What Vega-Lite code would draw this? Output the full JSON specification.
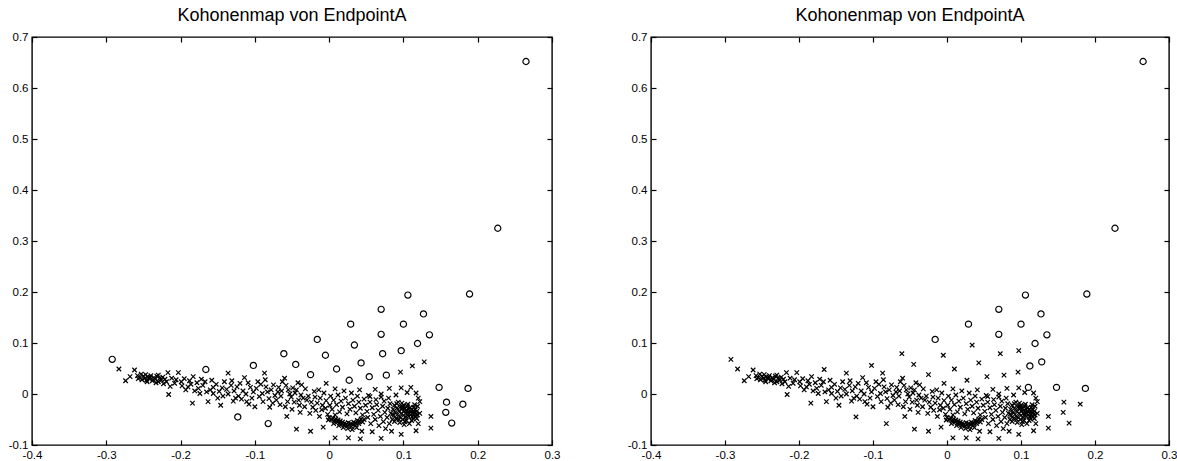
{
  "$schema": "https://vega.github.io/schema/vega-lite/v6.json",
  "padding": {"left": 7, "top": 6, "right": 5, "bottom": 2},
  "spacing": 65,
  "config": {
    "view": {"stroke": "black", "strokeWidth": 1.4},
    "axis": {
      "domain": false, "grid": false, "ticks": true, "offset": -5,
      "tickColor": "black", "tickSize": 5, "tickWidth": 1.2, "tickOpacity": 1,
      "labelColor": "black", "labelFont": "Liberation Sans", "labelFontSize": 11.5,
      "labelFlush": false, "labelOverlap": false, "labelPadding": 4, "title": null, "zindex": 1
    },
    "title": {"font": "Liberation Sans", "fontSize": 18, "fontWeight": "normal", "color": "black", "offset": 6}
  },
  "datasets": {
    "som": [
      {"x":0.265,"y":0.652,"c":"b"},{"x":0.227,"y":0.325,"c":"b"},{"x":0.189,"y":0.196,"c":"b"},{"x":0.106,"y":0.194,"c":"b"},
      {"x":0.070,"y":0.166,"c":"b"},{"x":0.127,"y":0.157,"c":"b"},{"x":0.029,"y":0.137,"c":"b"},{"x":0.100,"y":0.137,"c":"b"},
      {"x":0.070,"y":0.117,"c":"b"},{"x":0.135,"y":0.116,"c":"b"},{"x":-0.016,"y":0.107,"c":"b"},{"x":0.034,"y":0.096,"c":"l"},
      {"x":0.119,"y":0.099,"c":"b"},{"x":0.072,"y":0.079,"c":"l"},{"x":0.097,"y":0.085,"c":"l"},{"x":-0.005,"y":0.076,"c":"l"},
      {"x":0.043,"y":0.061,"c":"l"},{"x":0.010,"y":0.049,"c":"l"},{"x":-0.025,"y":0.038,"c":"l"},{"x":0.027,"y":0.027,"c":"l"},
      {"x":0.054,"y":0.034,"c":"l"},{"x":0.077,"y":0.037,"c":"l"},{"x":0.148,"y":0.013,"c":"b"},{"x":0.187,"y":0.011,"c":"b"},
      {"x":0.158,"y":-0.016,"c":"l"},{"x":0.180,"y":-0.020,"c":"l"},{"x":0.157,"y":-0.036,"c":"l"},{"x":0.165,"y":-0.057,"c":"l"},
      {"x":-0.292,"y":0.068,"c":"l"},{"x":-0.166,"y":0.048,"c":"l"},{"x":-0.102,"y":0.056,"c":"l"},{"x":-0.061,"y":0.079,"c":"l"},
      {"x":-0.045,"y":0.058,"c":"l"},{"x":-0.123,"y":-0.045,"c":"l"},{"x":-0.082,"y":-0.058,"c":"l"},
      {"x":0.128,"y":0.063,"c":"r"},{"x":0.112,"y":0.055,"c":"r"},{"x":0.110,"y":0.013,"c":"r"},

      {"x":-0.283,"y":0.049},{"x":-0.274,"y":0.026},{"x":-0.268,"y":0.034},{"x":-0.262,"y":0.047},{"x":-0.258,"y":0.036},
      {"x":-0.255,"y":0.032},{"x":-0.252,"y":0.028},{"x":-0.250,"y":0.035},{"x":-0.248,"y":0.031},{"x":-0.246,"y":0.027},
      {"x":-0.244,"y":0.034},{"x":-0.242,"y":0.030},{"x":-0.240,"y":0.036},{"x":-0.238,"y":0.026},{"x":-0.236,"y":0.032},
      {"x":-0.234,"y":0.029},{"x":-0.232,"y":0.035},{"x":-0.230,"y":0.024},{"x":-0.228,"y":0.031},{"x":-0.226,"y":0.027},
      {"x":-0.224,"y":0.033},{"x":-0.253,"y":0.039},{"x":-0.247,"y":0.038},{"x":-0.257,"y":0.030},{"x":-0.241,"y":0.033},
      {"x":-0.233,"y":0.022},{"x":-0.245,"y":0.024},{"x":-0.221,"y":0.029},{"x":-0.219,"y":0.024},{"x":-0.230,"y":0.037},
      {"x":-0.217,"y":0.042},{"x":-0.203,"y":0.042},{"x":-0.216,"y":-0.001},{"x":-0.223,"y":0.020},{"x":-0.208,"y":0.021},
      {"x":-0.199,"y":0.024},{"x":-0.212,"y":0.031},{"x":-0.206,"y":0.028},{"x":-0.195,"y":0.030},{"x":-0.214,"y":0.015},
      {"x":-0.198,"y":0.016},{"x":-0.190,"y":0.014},{"x":-0.188,"y":0.026},{"x":-0.183,"y":0.034},{"x":-0.184,"y":-0.018},
      {"x":-0.176,"y":0.011},{"x":-0.174,"y":0.001},{"x":-0.178,"y":0.022},{"x":-0.170,"y":0.017},{"x":-0.167,"y":0.024},
      {"x":-0.163,"y":-0.015},{"x":-0.160,"y":0.008},{"x":-0.156,"y":0.001},{"x":-0.156,"y":0.013},{"x":-0.152,"y":0.019},
      {"x":-0.148,"y":0.005},{"x":-0.146,"y":-0.022},{"x":-0.144,"y":0.012},{"x":-0.141,"y":0.024},{"x":-0.138,"y":0.009},
      {"x":-0.136,"y":0.041},{"x":-0.136,"y":0.000},{"x":-0.132,"y":0.017},{"x":-0.128,"y":0.006},{"x":-0.126,"y":-0.008},
      {"x":-0.124,"y":0.014},{"x":-0.122,"y":-0.004},{"x":-0.120,"y":0.021},{"x":-0.114,"y":0.032},{"x":-0.116,"y":0.006},
      {"x":-0.112,"y":0.000},{"x":-0.111,"y":-0.015},{"x":-0.108,"y":-0.020},{"x":-0.106,"y":0.013},{"x":-0.102,"y":0.004},
      {"x":-0.100,"y":-0.025},{"x":-0.098,"y":0.011},{"x":-0.096,"y":0.024},{"x":-0.094,"y":-0.005},{"x":-0.092,"y":0.019},
      {"x":-0.090,"y":0.001},{"x":-0.087,"y":0.041},{"x":-0.085,"y":0.014},{"x":-0.083,"y":0.004},{"x":-0.081,"y":-0.009},
      {"x":-0.080,"y":-0.026},{"x":-0.078,"y":0.008},{"x":-0.075,"y":0.018},{"x":-0.073,"y":-0.003},{"x":-0.071,"y":-0.012},
      {"x":-0.069,"y":0.004},{"x":-0.068,"y":0.013},{"x":-0.065,"y":-0.004},{"x":-0.063,"y":0.024},{"x":-0.060,"y":0.031},
      {"x":-0.059,"y":-0.025},{"x":-0.057,"y":-0.044},{"x":-0.056,"y":-0.015},{"x":-0.055,"y":0.008},{"x":-0.053,"y":0.000},
      {"x":-0.051,"y":-0.006},{"x":-0.049,"y":0.012},{"x":-0.047,"y":-0.016},{"x":-0.044,"y":-0.069},{"x":-0.044,"y":0.008},
      {"x":-0.042,"y":0.022},{"x":-0.040,"y":-0.022},{"x":-0.038,"y":-0.002},{"x":-0.037,"y":0.018},{"x":-0.035,"y":-0.008},
      {"x":-0.033,"y":-0.025},{"x":-0.032,"y":0.010},
      {"x":-0.193,"y":0.008},{"x":-0.186,"y":0.019},{"x":-0.181,"y":0.006},{"x":-0.172,"y":0.029},{"x":-0.165,"y":0.004},
      {"x":-0.158,"y":0.027},{"x":-0.150,"y":-0.008},{"x":-0.143,"y":-0.004},{"x":-0.131,"y":0.026},{"x":-0.129,"y":-0.014},
      {"x":-0.118,"y":-0.010},{"x":-0.109,"y":0.022},{"x":-0.104,"y":-0.008},{"x":-0.089,"y":-0.015},{"x":-0.086,"y":0.028},
      {"x":-0.076,"y":-0.018},{"x":-0.066,"y":-0.021},{"x":-0.064,"y":0.006},{"x":-0.058,"y":0.017},{"x":-0.050,"y":-0.030},
      {"x":-0.046,"y":0.002},{"x":-0.041,"y":-0.012},{"x":-0.039,"y":-0.036},

      {"x":-0.030,"y":-0.012},{"x":-0.028,"y":-0.004},{"x":-0.026,"y":-0.038},{"x":-0.025,"y":-0.073},{"x":-0.024,"y":-0.016},
      {"x":-0.022,"y":-0.026},{"x":-0.020,"y":0.005},{"x":-0.019,"y":-0.006},{"x":-0.018,"y":-0.032},{"x":-0.016,"y":-0.018},
      {"x":-0.014,"y":0.008},{"x":-0.013,"y":-0.044},{"x":-0.012,"y":-0.008},{"x":-0.010,"y":-0.031},{"x":-0.009,"y":-0.022},
      {"x":-0.008,"y":-0.065},{"x":-0.007,"y":0.002},{"x":-0.005,"y":-0.028},{"x":-0.004,"y":0.021},{"x":-0.004,"y":-0.013},
      {"x":-0.002,"y":-0.040},{"x":-0.001,"y":-0.051},{"x":0.001,"y":-0.022},{"x":0.002,"y":-0.004},

      {"x":0.008,"y":0.010},{"x":0.020,"y":0.006},{"x":0.030,"y":0.002},{"x":0.041,"y":0.008},{"x":0.055,"y":-0.005},
      {"x":0.062,"y":0.009},{"x":0.070,"y":0.000},{"x":0.081,"y":0.011},{"x":0.090,"y":-0.002},{"x":0.097,"y":0.012},
      {"x":0.105,"y":0.003},{"x":0.117,"y":0.002},{"x":0.120,"y":-0.008},{"x":0.096,"y":0.043},

      {"x":0.004,"y":-0.030},{"x":0.006,"y":-0.012},{"x":0.008,"y":-0.041},{"x":0.010,"y":-0.021},{"x":0.012,"y":-0.002},
      {"x":0.014,"y":-0.035},{"x":0.016,"y":-0.014},{"x":0.018,"y":-0.026},{"x":0.022,"y":-0.008},{"x":0.024,"y":-0.039},
      {"x":0.026,"y":-0.019},{"x":0.028,"y":-0.030},{"x":0.032,"y":-0.012},{"x":0.034,"y":-0.024},{"x":0.036,"y":-0.037},
      {"x":0.038,"y":-0.004},{"x":0.040,"y":-0.016},{"x":0.042,"y":-0.028},{"x":0.045,"y":-0.041},{"x":0.047,"y":-0.010},
      {"x":0.049,"y":-0.022},

      {"x":0.000,"y":-0.046},{"x":0.003,"y":-0.050},{"x":0.005,"y":-0.047},{"x":0.007,"y":-0.053},{"x":0.009,"y":-0.049},
      {"x":0.011,"y":-0.055},{"x":0.012,"y":-0.051},{"x":0.014,"y":-0.057},{"x":0.015,"y":-0.053},{"x":0.017,"y":-0.059},
      {"x":0.018,"y":-0.055},{"x":0.020,"y":-0.061},{"x":0.021,"y":-0.057},{"x":0.023,"y":-0.059},{"x":0.024,"y":-0.063},
      {"x":0.026,"y":-0.056},{"x":0.027,"y":-0.061},{"x":0.029,"y":-0.058},{"x":0.030,"y":-0.064},{"x":0.032,"y":-0.060},
      {"x":0.033,"y":-0.055},{"x":0.035,"y":-0.062},{"x":0.036,"y":-0.057},{"x":0.038,"y":-0.052},{"x":0.040,"y":-0.058},
      {"x":0.041,"y":-0.054},{"x":0.043,"y":-0.049},{"x":0.045,"y":-0.055},{"x":0.047,"y":-0.050},{"x":0.019,"y":-0.066},
      {"x":0.025,"y":-0.068},{"x":0.013,"y":-0.062},{"x":0.006,"y":-0.058},{"x":0.031,"y":-0.070},{"x":0.037,"y":-0.066},

      {"x":0.051,"y":-0.034},{"x":0.052,"y":-0.046},{"x":0.053,"y":-0.003},{"x":0.055,"y":-0.016},{"x":0.056,"y":-0.058},
      {"x":0.058,"y":-0.074},{"x":0.058,"y":-0.027},{"x":0.060,"y":-0.040},{"x":0.062,"y":-0.050},{"x":0.063,"y":-0.011},
      {"x":0.064,"y":-0.021},{"x":0.066,"y":-0.032},{"x":0.067,"y":-0.062},{"x":0.069,"y":-0.044},{"x":0.070,"y":-0.006},
      {"x":0.072,"y":-0.024},{"x":0.073,"y":-0.054},{"x":0.074,"y":-0.014},{"x":0.075,"y":-0.036},{"x":0.076,"y":-0.068},
      {"x":0.078,"y":-0.046},{"x":0.079,"y":-0.028},{"x":0.080,"y":-0.008},{"x":0.081,"y":-0.058},{"x":0.082,"y":-0.019},
      {"x":0.083,"y":-0.038},{"x":0.085,"y":-0.050},

      {"x":0.086,"y":-0.030},{"x":0.087,"y":-0.042},{"x":0.088,"y":-0.022},{"x":0.089,"y":-0.036},{"x":0.090,"y":-0.048},
      {"x":0.091,"y":-0.028},{"x":0.092,"y":-0.040},{"x":0.093,"y":-0.016},{"x":0.094,"y":-0.033},{"x":0.095,"y":-0.045},
      {"x":0.096,"y":-0.025},{"x":0.097,"y":-0.038},{"x":0.098,"y":-0.030},{"x":0.099,"y":-0.050},{"x":0.100,"y":-0.042},
      {"x":0.100,"y":-0.022},{"x":0.101,"y":-0.034},{"x":0.102,"y":-0.028},{"x":0.103,"y":-0.046},{"x":0.103,"y":-0.038},
      {"x":0.104,"y":-0.032},{"x":0.105,"y":-0.040},{"x":0.105,"y":-0.024},{"x":0.106,"y":-0.036},{"x":0.107,"y":-0.030},
      {"x":0.107,"y":-0.044},{"x":0.108,"y":-0.038},{"x":0.109,"y":-0.033},{"x":0.109,"y":-0.027},{"x":0.110,"y":-0.041},
      {"x":0.110,"y":-0.035},{"x":0.111,"y":-0.030},{"x":0.112,"y":-0.045},{"x":0.112,"y":-0.038},{"x":0.113,"y":-0.033},
      {"x":0.114,"y":-0.040},{"x":0.114,"y":-0.026},{"x":0.115,"y":-0.036},{"x":0.116,"y":-0.031},{"x":0.116,"y":-0.045},
      {"x":0.117,"y":-0.040},{"x":0.118,"y":-0.034},{"x":0.098,"y":-0.018},{"x":0.104,"y":-0.052},{"x":0.111,"y":-0.052},
      {"x":0.118,"y":-0.048},{"x":0.119,"y":-0.024},{"x":0.095,"y":-0.056},{"x":0.101,"y":-0.060},{"x":0.108,"y":-0.058},
      {"x":0.088,"y":-0.054},{"x":0.091,"y":-0.019},{"x":0.094,"y":-0.050},{"x":0.099,"y":-0.026},{"x":0.102,"y":-0.054},
      {"x":0.106,"y":-0.020},{"x":0.113,"y":-0.049},{"x":0.115,"y":-0.021},{"x":0.119,"y":-0.041},{"x":0.085,"y":-0.040},

      {"x":0.008,"y":-0.086},{"x":0.026,"y":-0.086},{"x":0.042,"y":-0.088},{"x":0.044,"y":-0.073},{"x":0.070,"y":-0.087},
      {"x":0.084,"y":-0.073},{"x":0.097,"y":-0.079},{"x":0.117,"y":-0.072},{"x":0.120,"y":-0.058},{"x":0.137,"y":-0.044},
      {"x":0.137,"y":-0.067},{"x":0.122,"y":-0.038},{"x":0.122,"y":-0.015}
    ]
  },
  "hconcat": [
    {
      "title": "Kohonenmap von EndpointA",
      "width": 520, "height": 408,
      "data": {"name": "som"},
      "layer": [
        {
          "transform": [{"filter": {"not": {"field": "c", "oneOf": ["b", "l"]}}}],
          "mark": {"type": "point", "shape": "M-1,-1L1,1M1,-1L-1,1", "size": 20, "strokeWidth": 1.2, "color": "black", "filled": false, "opacity": 1},
          "encoding": {
            "x": {"field": "x", "type": "quantitative", "scale": {"domain": [-0.4, 0.3], "nice": false, "zero": false},
                  "axis": {"orient": "bottom", "values": [-0.4, -0.3, -0.2, -0.1, 0, 0.1, 0.2, 0.3], "labelExpr": "'' + datum.value"}},
            "y": {"field": "y", "type": "quantitative", "scale": {"domain": [-0.1, 0.7], "nice": false, "zero": false},
                  "axis": {"orient": "left", "values": [-0.1, 0, 0.1, 0.2, 0.3, 0.4, 0.5, 0.6, 0.7], "labelExpr": "'' + datum.value"}}
          }
        },
        {
          "transform": [{"filter": {"field": "c", "oneOf": ["b", "l"]}}],
          "mark": {"type": "point", "shape": "circle", "size": 38, "strokeWidth": 1.2, "color": "black", "filled": false, "opacity": 1},
          "encoding": {
            "x": {"field": "x", "type": "quantitative", "axis": {"orient": "top", "labels": false, "values": [-0.4, -0.3, -0.2, -0.1, 0, 0.1, 0.2, 0.3]}},
            "y": {"field": "y", "type": "quantitative", "axis": {"orient": "right", "labels": false, "values": [-0.1, 0, 0.1, 0.2, 0.3, 0.4, 0.5, 0.6, 0.7]}}
          }
        }
      ],
      "resolve": {"axis": {"x": "independent", "y": "independent"}}
    },
    {
      "title": "Kohonenmap von EndpointA",
      "width": 518, "height": 408,
      "data": {"name": "som"},
      "layer": [
        {
          "transform": [{"filter": {"not": {"field": "c", "oneOf": ["b", "r"]}}}],
          "mark": {"type": "point", "shape": "M-1,-1L1,1M1,-1L-1,1", "size": 20, "strokeWidth": 1.2, "color": "black", "filled": false, "opacity": 1},
          "encoding": {
            "x": {"field": "x", "type": "quantitative", "scale": {"domain": [-0.4, 0.3], "nice": false, "zero": false},
                  "axis": {"orient": "bottom", "values": [-0.4, -0.3, -0.2, -0.1, 0, 0.1, 0.2, 0.3], "labelExpr": "'' + datum.value"}},
            "y": {"field": "y", "type": "quantitative", "scale": {"domain": [-0.1, 0.7], "nice": false, "zero": false},
                  "axis": {"orient": "left", "values": [-0.1, 0, 0.1, 0.2, 0.3, 0.4, 0.5, 0.6, 0.7], "labelExpr": "'' + datum.value"}}
          }
        },
        {
          "transform": [{"filter": {"field": "c", "oneOf": ["b", "r"]}}],
          "mark": {"type": "point", "shape": "circle", "size": 38, "strokeWidth": 1.2, "color": "black", "filled": false, "opacity": 1},
          "encoding": {
            "x": {"field": "x", "type": "quantitative", "axis": {"orient": "top", "labels": false, "values": [-0.4, -0.3, -0.2, -0.1, 0, 0.1, 0.2, 0.3]}},
            "y": {"field": "y", "type": "quantitative", "axis": {"orient": "right", "labels": false, "values": [-0.1, 0, 0.1, 0.2, 0.3, 0.4, 0.5, 0.6, 0.7]}}
          }
        }
      ],
      "resolve": {"axis": {"x": "independent", "y": "independent"}}
    }
  ]
}
